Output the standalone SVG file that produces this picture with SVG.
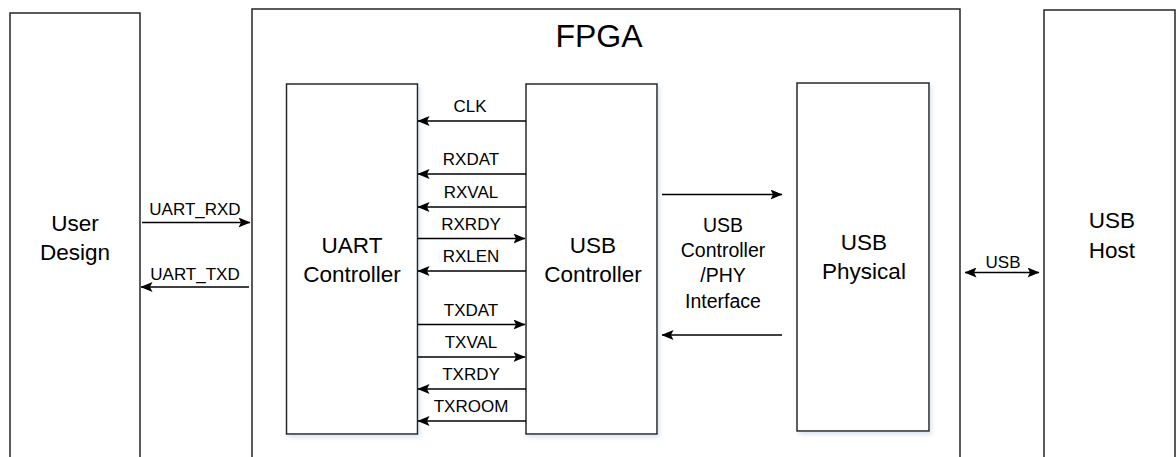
<svg xmlns="http://www.w3.org/2000/svg" width="1176" height="457" viewBox="0 0 1176 457">
<style>
.box{fill:#fff;stroke:#262626;stroke-width:1.5}
.open{fill:none;stroke:#262626;stroke-width:1.5}
.big{font-family:"Liberation Sans",Arial,sans-serif;font-size:22.5px;fill:#000;text-anchor:middle}
.mid{font-family:"Liberation Sans",Arial,sans-serif;font-size:19.5px;fill:#000;text-anchor:middle}
.sm{font-family:"Liberation Sans",Arial,sans-serif;font-size:17px;fill:#000;text-anchor:middle}
.title{font-family:"Liberation Sans",Arial,sans-serif;font-size:32px;fill:#000;text-anchor:middle}
.wire{fill:none;stroke:#000;stroke-width:1.6}
</style>
<defs>
<marker id="ah" viewBox="0 0 12 10" refX="11.5" refY="5" markerWidth="12" markerHeight="10" markerUnits="userSpaceOnUse" orient="auto-start-reverse">
<path d="M0,0 L12,5 L0,10 L2.5,5 Z" fill="#000"/>
</marker>
<filter id="sh" x="-10%" y="-10%" width="130%" height="130%">
<feDropShadow dx="2" dy="3" stdDeviation="2" flood-color="#9bb8d8" flood-opacity="0.35"/>
</filter>
</defs>
<rect width="1176" height="457" fill="#fff"/>

<g id="user-design">
<path class="open" d="M10,470 V13 H140 V470"/>
<text class="big" x="75" y="231">User</text>
<text class="big" x="75" y="260">Design</text>
</g>

<g id="fpga">
<path class="open" d="M252,470 V9 H960 V470"/>
<text class="title" x="599" y="47">FPGA</text>
</g>

<g id="usb-host">
<path class="open" d="M1044,470 V10 H1175 V470"/>
<text class="big" x="1112" y="228">USB</text>
<text class="big" x="1112" y="258">Host</text>
</g>

<g id="uart-controller">
<rect class="box" filter="url(#sh)" x="286.5" y="84" width="131" height="350"/>
<text class="big" x="352" y="253">UART</text>
<text class="big" x="352" y="282">Controller</text>
</g>

<g id="usb-controller">
<rect class="box" filter="url(#sh)" x="526" y="84" width="131" height="350"/>
<text class="big" x="593" y="253">USB</text>
<text class="big" x="593" y="282">Controller</text>
</g>

<g id="usb-physical">
<rect class="box" filter="url(#sh)" x="797" y="83" width="132" height="348"/>
<text class="big" x="864" y="250">USB</text>
<text class="big" x="864" y="279">Physical</text>
</g>

<g id="connectors">
<line class="wire" x1="142" y1="222.5" x2="250" y2="222.5" marker-end="url(#ah)"/>
<line class="wire" x1="249" y1="287" x2="141" y2="287" marker-end="url(#ah)"/>

<line class="wire" x1="526" y1="121" x2="418" y2="121" marker-end="url(#ah)"/>
<line class="wire" x1="526" y1="174" x2="418" y2="174" marker-end="url(#ah)"/>
<line class="wire" x1="526" y1="207" x2="418" y2="207" marker-end="url(#ah)"/>
<line class="wire" x1="418" y1="238.5" x2="525" y2="238.5" marker-end="url(#ah)"/>
<line class="wire" x1="526" y1="271" x2="418" y2="271" marker-end="url(#ah)"/>
<line class="wire" x1="418" y1="324.5" x2="525" y2="324.5" marker-end="url(#ah)"/>
<line class="wire" x1="418" y1="357" x2="525" y2="357" marker-end="url(#ah)"/>
<line class="wire" x1="526" y1="389" x2="418" y2="389" marker-end="url(#ah)"/>
<line class="wire" x1="526" y1="421" x2="418" y2="421" marker-end="url(#ah)"/>

<line class="wire" x1="662" y1="194.5" x2="782" y2="194.5" marker-end="url(#ah)"/>
<line class="wire" x1="782" y1="335" x2="662" y2="335" marker-end="url(#ah)"/>

<line class="wire" x1="965" y1="272.5" x2="1039" y2="272.5" marker-start="url(#ah)" marker-end="url(#ah)"/>

<text class="sm" x="195" y="215">UART_RXD</text>
<text class="sm" x="195" y="280">UART_TXD</text>
<text class="sm" x="470" y="112">CLK</text>
<text class="sm" x="471" y="165">RXDAT</text>
<text class="sm" x="471" y="198">RXVAL</text>
<text class="sm" x="471" y="229.5">RXRDY</text>
<text class="sm" x="471" y="262">RXLEN</text>
<text class="sm" x="471" y="315.5">TXDAT</text>
<text class="sm" x="471" y="348">TXVAL</text>
<text class="sm" x="471" y="380">TXRDY</text>
<text class="sm" x="471" y="412">TXROOM</text>
<text class="mid" x="723" y="232">USB</text>
<text class="mid" x="723" y="257">Controller</text>
<text class="mid" x="723" y="282">/PHY</text>
<text class="mid" x="723" y="308">Interface</text>
<text class="sm" x="1003" y="268">USB</text>
</g>
</svg>
